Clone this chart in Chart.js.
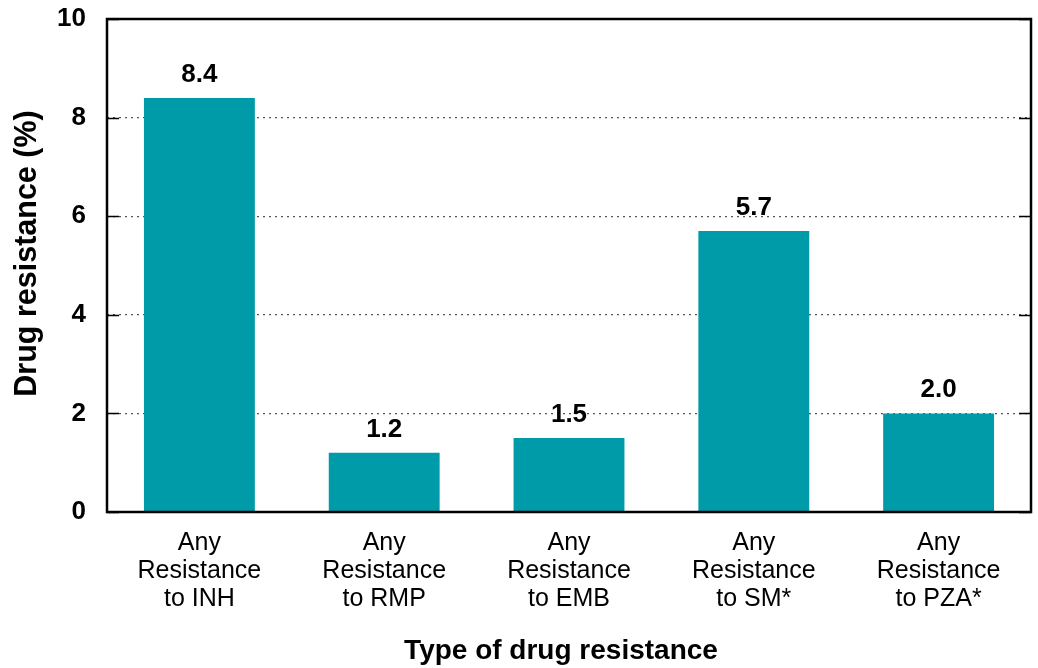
<!DOCTYPE html>
<html>
<head>
<meta charset="utf-8">
<script src="https://cdn.jsdelivr.net/npm/chart.js@4/dist/chart.umd.min.js"></script>
<style>
html,body{margin:0;padding:0;background:#fff;}
#wrap{width:1038px;height:668px;position:relative;}
</style>
</head>
<body>
<div id="wrap"><canvas id="c" width="1038" height="668"></canvas></div>
<script>
const categories = [
  ["Any", "Resistance", "to INH"],
  ["Any", "Resistance", "to RMP"],
  ["Any", "Resistance", "to EMB"],
  ["Any", "Resistance", "to SM*"],
  ["Any", "Resistance", "to PZA*"]
];
const resistanceValues = [8.4, 1.2, 1.5, 5.7, 2.0];
const valueLabels = ["8.4", "1.2", "1.5", "5.7", "2.0"];
const yTicks = [0, 2, 4, 6, 8, 10];
const xTitle = "Type of drug resistance";
const yTitle = "Drug resistance (%)";

const FONT = "'Liberation Sans', Arial, sans-serif";

const boxPlugin = {
  id: 'boxPlugin',
  afterDatasetsDraw(chart) {
    const {ctx, chartArea: a, scales} = chart;
    ctx.save();
    ctx.strokeStyle = '#000';
    ctx.lineWidth = 1.5;
    yTicks.forEach(v => {
      const y = Math.round(scales.y.getPixelForValue(v)) + 0.5;
      ctx.beginPath();
      ctx.moveTo(a.left, y); ctx.lineTo(a.left + 12, y);
      ctx.moveTo(a.right, y); ctx.lineTo(a.right - 12, y);
      ctx.stroke();
    });
    ctx.lineWidth = 2.5;
    ctx.strokeRect(a.left, a.top, a.right - a.left, a.bottom - a.top);
    ctx.fillStyle = '#000';
    ctx.font = 'bold 26px ' + FONT;
    ctx.textAlign = 'center';
    ctx.textBaseline = 'alphabetic';
    const meta = chart.getDatasetMeta(0);
    meta.data.forEach((bar, i) => {
      ctx.fillText(valueLabels[i], bar.x, bar.y - 16);
    });
    ctx.font = 'bold 28px ' + FONT;
    ctx.fillText(xTitle, (a.left + a.right) / 2 - 8, chart.height - 9);
    ctx.save();
    ctx.translate(a.left - 71, (a.top + a.bottom) / 2 - 12);
    ctx.rotate(-Math.PI / 2);
    ctx.font = 'bold 30.5px ' + FONT;
    ctx.fillText(yTitle, 0, 0);
    ctx.restore();
    ctx.restore();
  }
};

new Chart(document.getElementById('c'), {
  type: 'bar',
  data: {
    labels: categories,
    datasets: [{
      data: resistanceValues,
      backgroundColor: '#009BA8',
      borderWidth: 0,
      barPercentage: 0.6,
      categoryPercentage: 1.0
    }]
  },
  options: {
    responsive: false,
    animation: false,
    devicePixelRatio: 1,
    layout: {padding: {top: 19, right: 7, left: 0, bottom: 0}},
    plugins: {
      legend: {display: false},
      tooltip: {enabled: false}
    },
    scales: {
      x: {
        afterFit(axis) { axis.height = 156; },
        grid: {display: false, drawTicks: false},
        border: {display: false},
        ticks: {
          color: '#000',
          font: {family: FONT, size: 25, lineHeight: 1.12},
          padding: 17,
          maxRotation: 0
        },
        title: {display: false}
      },
      y: {
        min: 0,
        max: 10,
        afterFit(axis) { axis.width = 107; axis.paddingTop = 0; axis.paddingBottom = 0; },
        afterBuildTicks(axis) { axis.ticks = yTicks.map(v => ({value: v})); },
        grid: {
          drawTicks: false,
          color: ctx => (ctx.tick && (ctx.tick.value === 0 || ctx.tick.value === 10)) ? 'rgba(0,0,0,0)' : '#555',
          lineWidth: 1.2
        },
        border: {display: false, dash: [2, 4]},
        ticks: {
          color: '#000',
          font: {family: FONT, size: 26, weight: 'bold'},
          padding: 21
        },
        title: {display: false}
      }
    }
  },
  plugins: [boxPlugin]
});
</script>
</body>
</html>
